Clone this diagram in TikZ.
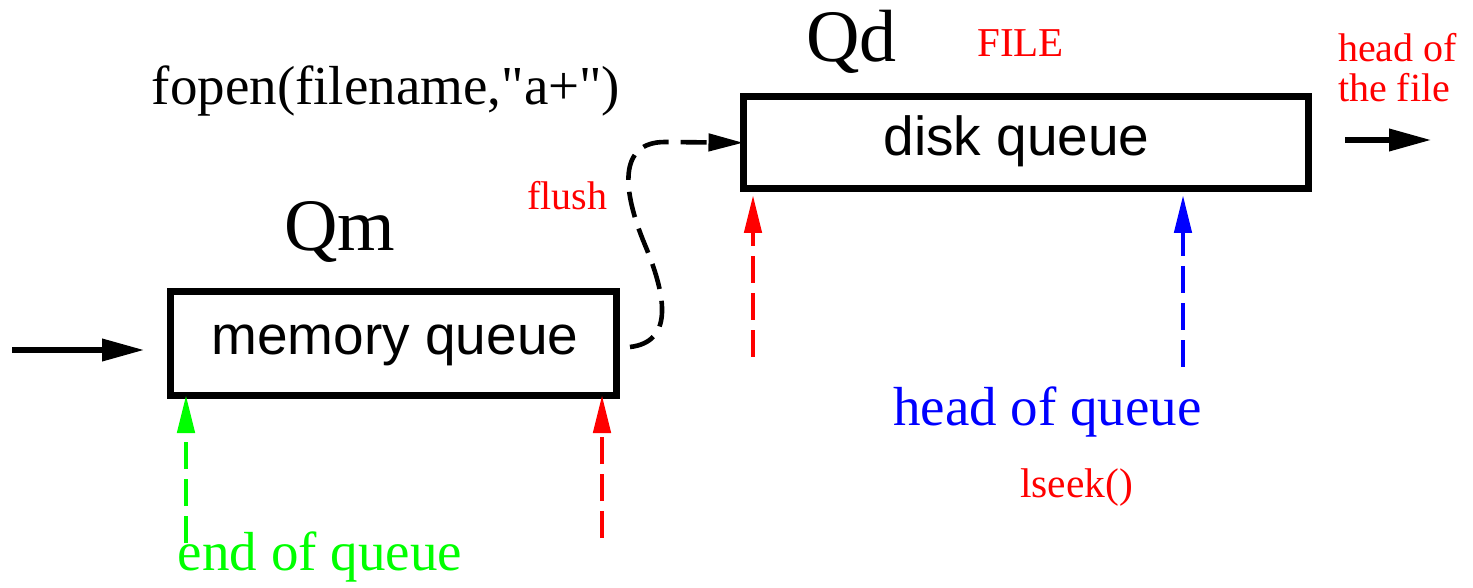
\documentclass[tikz,border=0pt]{standalone}
\usepackage{fontspec}
\setmainfont{Liberation Serif}
\setsansfont{Liberation Sans}
\newfontfamily\plainserif{Liberation Serif}[Ligatures=TeXOff]
\usetikzlibrary{arrows.meta}
\definecolor{pred}{RGB}{255,0,0}
\definecolor{pgreen}{RGB}{0,255,0}
\definecolor{pblue}{RGB}{0,0,255}
\begin{document}
\begin{tikzpicture}[x=0.5pt,y=-0.5pt,
  qbox/.style={draw=black,line width=3.5pt,minimum width=#1,inner sep=0pt,outer sep=0pt},
  txt/.style={inner sep=0pt,outer sep=0pt,anchor=base},
  fat/.style={line width=3.4pt,-{Triangle[length=21.5pt,width=10.5pt]}},
  ptr/.style={line width=2.3pt,dash pattern=on 13.5pt off 5pt,-{Triangle[length=19pt,width=8.5pt]}},
  flushline/.style={line width=2.3pt,dash pattern=on 13pt off 6pt,-{Triangle[length=17.5pt,width=8.5pt]}}
]
\useasboundingbox (0,0) rectangle (1473,588);
% boxes
\node[qbox=223.25pt,minimum height=51.75pt] (mem) at (393.25,343.25) {};
\node[qbox=282.25pt,minimum height=46.25pt] (disk) at (1025.75,142.75) {};
% texts
\node[txt,font=\sffamily\fontsize{27.5}{30}\selectfont] (memt) at (395,355) {memory queue};
\node[txt,font=\sffamily\fontsize{27.5}{30}\selectfont] (diskt) at (1016.5,156) {disk queue};
\node[txt,font=\fontsize{37}{40}\selectfont] (qm) at (340,251) {Qm};
\node[txt,font=\fontsize{37}{40}\selectfont] (qd) at (851.5,62) {Qd};
\node[txt,font=\fontsize{20.5}{22}\selectfont,text=pred] (file) at (1020.5,57) {FILE};
\node[txt,font=\plainserif\fontsize{27.5}{30}\selectfont] (fopen) at (386,105) {fopen(filename,"a+")};
\node[txt,anchor=base west,font=\fontsize{20}{20}\selectfont,text=pred] (hf1) at (1338,62) {head of};
\node[txt,anchor=base west,font=\fontsize{20}{20}\selectfont,text=pred] (hf2) at (1338,102) {the file};
\node[txt,font=\fontsize{20}{22}\selectfont,text=pred] (flush) at (567,210) {flush};
\node[txt,font=\fontsize{27.5}{30}\selectfont,text=pblue] (hq) at (1047.5,425) {head of queue};
\node[txt,font=\fontsize{20.75}{22}\selectfont,text=pred] (lseek) at (1076.5,497) {lseek()};
\node[txt,font=\fontsize{27.5}{30}\selectfont,text=pgreen] (eq) at (320,570) {end of queue};
% free ends
\coordinate (inA) at (12,350);
\coordinate (outA) at (1432,140);
\coordinate (gA) at (186,543);
\coordinate (rA) at (602,538);
\coordinate (rB) at (753,357);
\coordinate (bA) at (1183,367);
\coordinate (fA) at (630,347);
% arrows
\draw[fat,shorten >=12.5pt] (inA) -- (inA -| mem.west);
\draw[fat,shorten <=18.5pt] (outA -| disk.east) -- (outA);
\draw[ptr,pgreen] (gA) -- (gA |- mem.south);
\draw[ptr,pred] (rA) -- (rA |- mem.south);
\draw[ptr,pred,shorten >=3pt] (rB) -- (rB |- disk.south);
\draw[ptr,pblue,shorten >=3pt] (bA) -- (bA |- disk.south);
\draw[flushline] (fA) .. controls (672,342) and (668,300) .. (645,245)
  .. controls (622,190) and (618,142) .. (665,142) -- (disk.west);
\end{tikzpicture}
\end{document}
